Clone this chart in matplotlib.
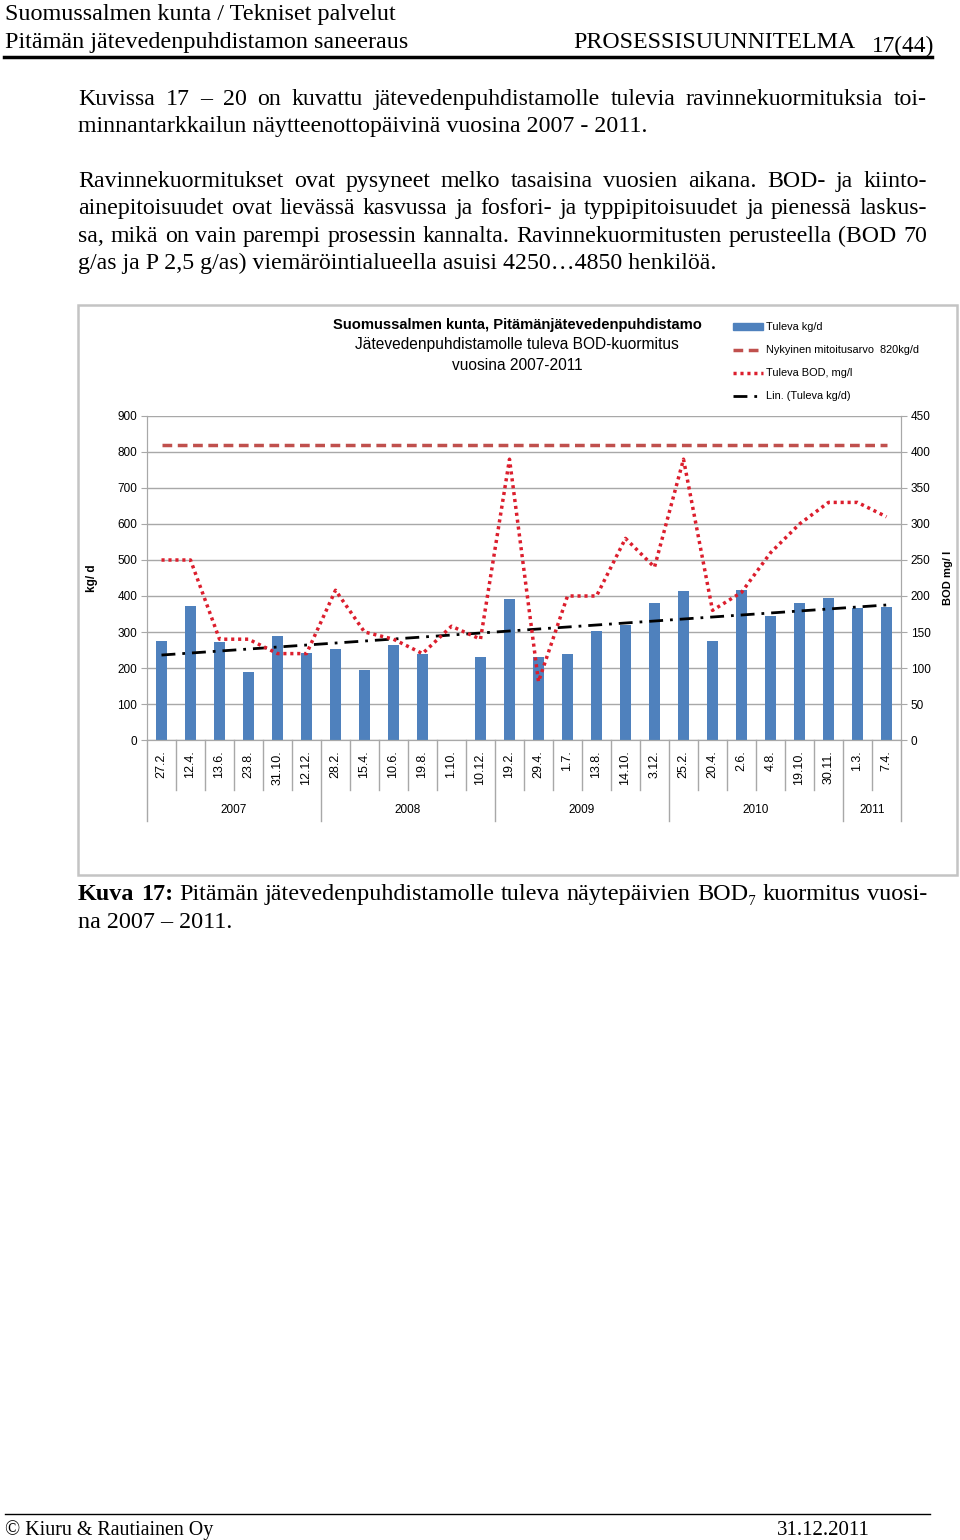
import numpy as np
import matplotlib
matplotlib.use('Agg')
import matplotlib.pyplot as plt
import matplotlib.transforms as mtransforms
from matplotlib.lines import Line2D
from matplotlib.patches import Rectangle

# data
dates = ['27.2.', '12.4.', '13.6.', '23.8.', '31.10.', '12.12.',
         '28.2.', '15.4.', '10.6.', '19.8.', '1.10.', '10.12.',
         '19.2.', '29.4.', '1.7.', '13.8.', '14.10.', '3.12.',
         '25.2.', '20.4.', '2.6.', '4.8.', '19.10.', '30.11.',
         '1.3.', '7.4.']
years = ['2007', '2008', '2009', '2010', '2011']
year_counts = [6, 6, 6, 6, 2]
kg_d = [276, 373, 273, 189, 289, 241, 253, 194, 264, 238, np.nan, 231,
        393, 231, 238, 304, 320, 381, 413, 276, 418, 344, 381, 395, 367, 370]
bod_mgl = [250, 250, 140, 140, 120, 120, 208, 150, 140, 120, 158, 140,
           390, 81, 200, 200, 280, 240, 390, 180, 205, 260, 300, 330, 330, 310]
mitoitus = 820

W, H = 960, 1540
fig = plt.figure(figsize=(W / 100, H / 100), dpi=100)
SERIF = ['Liberation Serif', 'DejaVu Serif']
SANS = ['Liberation Sans', 'DejaVu Sans']
BODY = 17.2


def fx(x):
    return x / W


def fy(y):
    return 1 - y / H


def ptext(x, y, s, size=BODY, **kw):
    kw.setdefault('family', SERIF)
    kw.setdefault('va', 'baseline')
    return fig.text(fx(x), fy(y), s, fontsize=size, **kw)


def justified(words, x0, x1, y, size=BODY):
    # words: list of (text, weight); spread across x0..x1
    r = fig.canvas.get_renderer()
    items = [ptext(x0, y, w, size, weight=wt) for w, wt in words]
    widths = [t.get_window_extent(r).width for t in items]
    gap = (x1 - x0 - sum(widths)) / (len(items) - 1)
    x = x0
    for t, w in zip(items, widths):
        t.set_x(fx(x))
        x += w + gap


def line_words(s, bold_n=0):
    ws = s.split(' ')
    return [(w, 'bold' if i < bold_n else 'normal') for i, w in enumerate(ws)]


# header
ptext(5, 20, 'Suomussalmen kunta / Tekniset palvelut', 17.4)
ptext(5, 48, 'Pitämän jätevedenpuhdistamon saneeraus', 17.4)
ptext(855, 48, 'PROSESSISUUNNITELMA', 17.2, ha='right')
ptext(872, 52, '17(44)', 16.8)
fig.add_artist(Line2D([fx(4), fx(932)], [fy(57), fy(57)], color='black', lw=2.5))

# body text
justified(line_words('Kuvissa 17 – 20 on kuvattu jätevedenpuhdistamolle tulevia ravinnekuormituksia toi-'), 78, 927, 105)
ptext(78, 132, 'minnantarkkailun näytteenottopäivinä vuosina 2007 - 2011.')
justified(line_words('Ravinnekuormitukset ovat pysyneet melko tasaisina vuosien aikana. BOD- ja kiinto-'), 78, 927, 187)
justified(line_words('ainepitoisuudet ovat lievässä kasvussa ja fosfori- ja typpipitoisuudet ja pienessä laskus-'), 78, 927, 214)
justified(line_words('sa, mikä on vain parempi prosessin kannalta. Ravinnekuormitusten perusteella (BOD 70'), 78, 927, 242)
ptext(78, 269, 'g/as ja P 2,5 g/as) viemäröintialueella asuisi 4250…4850 henkilöä.')

# chart frame
fig.add_artist(Rectangle((fx(78), fy(875)), fx(957) - fx(78), fy(305) - fy(875),
                         fill=False, edgecolor='#c4c4c4', lw=1.8))

ax = fig.add_axes([fx(147), fy(740), fx(901) - fx(147), fy(416) - fy(740)])
ax2 = ax.twinx()

x = np.arange(len(dates))
kg = np.array(kg_d, dtype=float)
ok = ~np.isnan(kg)
ax.bar(x[ok], kg[ok], width=0.38, color='#4f81bd', zorder=2)
ax.plot([x[0], x[-1]], [mitoitus, mitoitus], color='#c0504d', lw=2.5,
        linestyle=(0, (2.8, 1.6)), zorder=3)
k, b = np.polyfit(x[ok] + 1, kg[ok], 1)
ax.plot(x, k * (x + 1) + b, color='black', lw=2, linestyle=(0, (5, 2.5, 1, 2.5)), zorder=4)
ax2.plot(x, bod_mgl, color='#dc1e2d', lw=2.5, linestyle=(0, (0.9, 1.1)), zorder=5)

ax.set_xlim(-0.5, len(dates) - 0.5)
ax.set_ylim(0, 900)
ax2.set_ylim(0, 450)
ax.set_yticks(range(0, 901, 100))
ax2.set_yticks(range(0, 451, 50))
ax.set_xticks([])
ax.yaxis.grid(True, color='#a8a8a8', lw=1)
ax.set_axisbelow(True)
for a in (ax, ax2):
    a.spines['top'].set_visible(False)
    for s in ('left', 'right', 'bottom'):
        a.spines[s].set_color('#a8a8a8')
    a.tick_params(axis='y', length=4, color='#a8a8a8', labelsize=8.5, pad=3)
    for t in a.get_yticklabels():
        t.set_family(SANS)
ax2.tick_params(axis='y', pad=3)

ax.set_ylabel('kg/ d', family=SANS, fontsize=8.5, weight='bold')
ax.yaxis.set_label_coords((98 - 147) / 754, 0.5)
ax2.set_ylabel('BOD mg/ l', family=SANS, fontsize=8, weight='bold')
ax2.yaxis.set_label_coords((943 - 147) / 754, 0.5)

# multi level category axis
trans = mtransforms.blended_transform_factory(ax.transData, ax.transAxes)
ph = 324.0
bounds = np.cumsum([0] + year_counts) - 0.5
for i in range(len(dates) + 1):
    xb = i - 0.5
    low = 81 if xb in bounds else 50
    ax.plot([xb, xb], [0, -low / ph], transform=trans, clip_on=False,
            color='#a8a8a8', lw=1)
for i, d in enumerate(dates):
    ax.text(i, -10 / ph, d, transform=trans, rotation=90, ha='center', va='top',
            fontsize=9, family=SANS)
for j, yr in enumerate(years):
    mid = (bounds[j] + bounds[j + 1]) / 2
    ax.text(mid, -70 / ph, yr, transform=trans, ha='center', va='center',
            fontsize=8.5, family=SANS)

# chart title
fig.text(fx(517), fy(325), 'Suomussalmen kunta, Pitämänjätevedenpuhdistamo', ha='center',
         va='center', fontsize=10.6, weight='bold', family=SANS)
fig.text(fx(517), fy(345), 'Jätevedenpuhdistamolle tuleva BOD-kuormitus', ha='center',
         va='center', fontsize=11.2, family=SANS)
fig.text(fx(517), fy(365), 'vuosina 2007-2011', ha='center', va='center', fontsize=11.2, family=SANS)

# legend
leg_y = [327, 350, 373, 396]
fig.add_artist(Rectangle((fx(733), fy(330)), fx(763) - fx(733), fy(323) - fy(330),
                         color='#4f81bd'))
fig.add_artist(Line2D([fx(733), fx(763)], [fy(350), fy(350)], color='#c0504d', lw=2.5,
                      linestyle=(0, (2.8, 1.6))))
fig.add_artist(Line2D([fx(733), fx(763)], [fy(373), fy(373)], color='#dc1e2d', lw=2.5,
                      linestyle=(0, (0.9, 1.1))))
fig.add_artist(Line2D([fx(733), fx(763)], [fy(396), fy(396)], color='black', lw=2,
                      linestyle=(0, (5, 2.5, 1, 2.5))))
labels = ['Tuleva kg/d', 'Nykyinen mitoitusarvo  820kg/d', 'Tuleva BOD, mg/l', 'Lin. (Tuleva kg/d)']
for yy, lab in zip(leg_y, labels):
    fig.text(fx(766), fy(yy), lab, va='center', fontsize=7.9, family=SANS)

# caption
justified(line_words('Kuva 17: Pitämän jätevedenpuhdistamolle tuleva näytepäivien BOD₇ kuormitus vuosi-', 2),
          78, 927, 900, 17.4)
ptext(78, 928, 'na 2007 – 2011.', 17.4)

# footer
fig.add_artist(Line2D([fx(5), fx(930)], [fy(1514), fy(1514)], color='black', lw=1))
ptext(5, 1535, '© Kiuru & Rautiainen Oy', 14.4)
ptext(870, 1535, '31.12.2011', 15, ha='right')

fig.savefig('out.png', dpi=100)
